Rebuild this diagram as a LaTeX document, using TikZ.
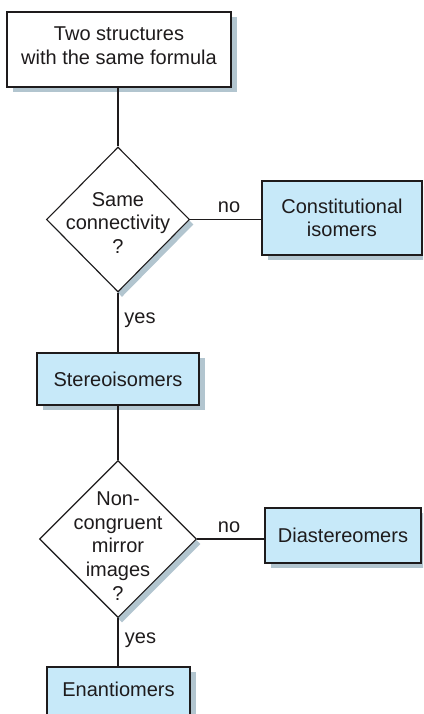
\documentclass[tikz,border=0pt]{standalone}
\usepackage{fontspec}
\setmainfont{Liberation Sans}
\usetikzlibrary{shapes.geometric,shadows}
\definecolor{boxfill}{RGB}{199,233,249}
\definecolor{shadowcol}{RGB}{178,197,207}
\definecolor{ink}{RGB}{30,27,28}
\begin{document}
\begin{tikzpicture}[x=1pt,y=-1pt,
  every node/.style={font=\fontsize{20}{23.6}\selectfont, text=ink},
  boxbase/.style={draw=ink, line width=1.2pt, rectangle, inner sep=0pt, align=center,
    drop shadow={shadow xshift=6pt, shadow yshift=-5pt, fill=shadowcol, opacity=1}},
  plainbox/.style={boxbase, fill=white},
  bluebox/.style={boxbase, fill=boxfill},
  decision/.style={diamond, draw=ink, line width=1.1pt, fill=white, inner sep=0pt,
    drop shadow={shadow xshift=4pt, shadow yshift=-5pt, fill=shadowcol, opacity=1}},
  txt/.style={align=center, inner sep=0pt},
  lbl/.style={inner sep=0pt},
  link/.style={draw=ink, line width=1.1pt}
]
\useasboundingbox (0,0) rectangle (423,714);
\clip (0,0) rectangle (423,714);

\node[plainbox, minimum width=224pt, minimum height=75pt, text depth=8pt] (b1) at (119,49.5)
  {Two structures\\with the same formula};

\node[decision, minimum width=143pt, minimum height=145pt] (d1) at (118,219.5) {};
\node[txt] (d1t) at (118,222.7) {Same\\connectivity\\?};

\node[bluebox, minimum width=160pt, minimum height=74pt] (c1) at (342,218)
  {Constitutional\\isomers};

\node[bluebox, minimum width=162pt, minimum height=52pt] (s1) at (118,379)
  {Stereoisomers};

\node[decision, minimum width=157pt, minimum height=157pt] (d2) at (118,539) {};
\node[txt] (d2t) at (118,546) {Non-\\congruent\\mirror\\images\\?};

\node[bluebox, minimum width=156pt, minimum height=55pt] (di) at (343,535.5)
  {Diastereomers};

\node[bluebox, minimum width=143pt, minimum height=52pt, text depth=8pt] (en) at (118.5,693)
  {Enantiomers};

\draw[link] (d1.north |- b1.south) -- (d1.north);
\draw[link] (d1.east) -- (d1.east -| c1.west);
\draw[link] (d1.south) -- (s1.north);
\draw[link] (s1.south) -- (d2.north);
\draw[link] (d2.east) -- (d2.east -| di.west);
\draw[link] (d2.south) -- (d2.south |- en.north);

\node[lbl] (no1) at (229,207) {no};
\node[lbl] (yes1) at (140,320.3) {yes};
\node[lbl] (no2) at (229,527) {no};
\node[lbl] (yes2) at (140.5,640.2) {yes};
\end{tikzpicture}
\end{document}
